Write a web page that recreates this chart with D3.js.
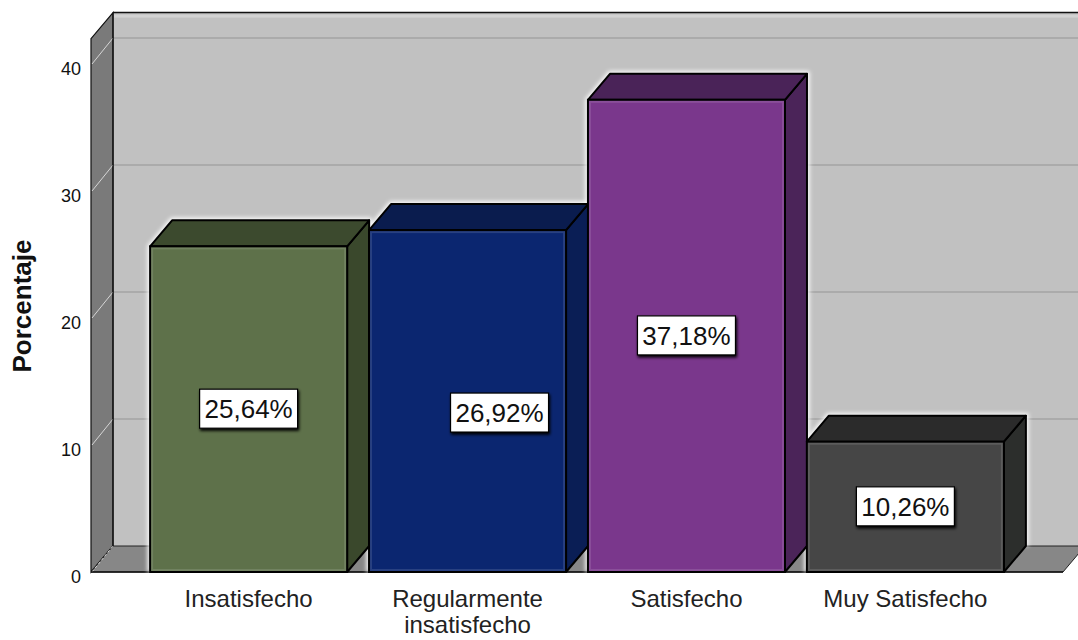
<!DOCTYPE html>
<html>
<head>
<meta charset="utf-8">
<script src="https://cdn.jsdelivr.net/npm/d3@7"></script>
<style>
  html, body { margin: 0; padding: 0; background: #fff; }
  svg { display: block; font-family: "Liberation Sans", Arial, sans-serif; }
</style>
</head>
<body>
<svg id="chart" width="1078" height="640"></svg>
<script>
// Satisfaction levels and their share of respondents (%)
const categories = ["Insatisfecho", "Regularmente insatisfecho", "Satisfecho", "Muy Satisfecho"];
const percentages = [25.64, 26.92, 37.18, 10.26];
const valueLabels = ["25,64%", "26,92%", "37,18%", "10,26%"];
const yTicks = [0, 10, 20, 30, 40];
const yTitle = "Porcentaje";

// Face colours for each bar: front, top, side
const frontColors = ["#5e714a", "#0b2670", "#7a378c", "#464646"];
const topColors   = ["#3c4a2e", "#0a1c4e", "#4a2358", "#2b2b2b"];
const sideColors  = ["#3a482c", "#0a1e55", "#4b2459", "#2c2e2c"];

const W = 1078, H = 640;
const DX = 22, DY = 26;          // oblique depth offset of the 3D frame
const svg = d3.select("#chart");

const y = d3.scaleLinear().domain([0, 42]).range([572, 572 - 42 * 12.7]);
const x = d3.scaleBand().domain(categories).range([91, 1063])
  .paddingInner(0.1).paddingOuter(0.27);

const defs = svg.append("defs");
const glow = defs.append("filter").attr("id", "glow")
  .attr("x", "-10%").attr("y", "-10%").attr("width", "120%").attr("height", "120%");
glow.append("feGaussianBlur").attr("stdDeviation", 2);

const shadow = defs.append("filter").attr("id", "shadow")
  .attr("x", "-20%").attr("y", "-30%").attr("width", "140%").attr("height", "160%");
shadow.append("feGaussianBlur").attr("in", "SourceAlpha").attr("stdDeviation", 1.6).attr("result", "b");
shadow.append("feOffset").attr("in", "b").attr("dx", 1).attr("dy", 1.5).attr("result", "o");
const sm = shadow.append("feMerge");
sm.append("feMergeNode").attr("in", "o");
sm.append("feMergeNode").attr("in", "SourceGraphic");

const x0 = 91, xR = 1063;
const yTop = y(42), yBase = y(0);

// back wall
svg.append("rect")
  .attr("x", x0 + DX).attr("y", yTop - DY)
  .attr("width", W - x0 - DX + 10).attr("height", yBase - yTop)
  .attr("fill", "#c1c1c1");
svg.append("rect")
  .attr("x", x0 + DX + 1).attr("y", yTop - DY + 2)
  .attr("width", W).attr("height", 3).attr("fill", "#d2d2d2");

// back-wall gridlines
svg.append("g").selectAll("line").data(yTicks.filter(d => d > 0)).join("line")
  .attr("x1", x0 + DX).attr("x2", W)
  .attr("y1", d => y(d) - DY).attr("y2", d => y(d) - DY)
  .attr("stroke", "#ababab").attr("stroke-width", 2);

// left wall
svg.append("path")
  .attr("d", `M${x0},${yBase} L${x0},${yTop} L${x0 + DX},${yTop - DY} L${x0 + DX},${yBase - DY} Z`)
  .attr("fill", "#7a7a7a").attr("stroke", "#111").attr("stroke-width", 1.2);

// floor
svg.append("path")
  .attr("d", `M${x0},${yBase} L${x0 + DX},${yBase - DY} L${xR + DX},${yBase - DY} L${xR},${yBase} Z`)
  .attr("fill", "#878787").attr("stroke", "#222").attr("stroke-width", 1);

// left-wall gridlines
svg.append("g").selectAll("line").data(yTicks).join("line")
  .attr("x1", x0 + 1).attr("y1", d => y(d))
  .attr("x2", x0 + DX).attr("y2", d => y(d) - DY)
  .attr("stroke", "#d6d6d6").attr("stroke-width", 1)
  .attr("stroke-dasharray", d => d === 0 ? "3,2" : null);

// frame edges
svg.append("line").attr("x1", x0 + DX).attr("x2", W)
  .attr("y1", yTop - DY).attr("y2", yTop - DY)
  .attr("stroke", "#111").attr("stroke-width", 1.5);
svg.append("line").attr("x1", x0 + DX).attr("x2", x0 + DX)
  .attr("y1", yTop - DY).attr("y2", yBase - DY)
  .attr("stroke", "#111").attr("stroke-width", 1.2);
svg.append("line").attr("x1", x0).attr("x2", xR)
  .attr("y1", yBase).attr("y2", yBase)
  .attr("stroke", "#111").attr("stroke-width", 1.5);

// bars
const bars = categories.map((c, i) => ({ c, v: percentages[i], i }));
const bw = x.bandwidth();

const barG = svg.append("g");
// white halo behind each bar
barG.selectAll("path.halo").data(bars).join("path")
  .attr("class", "halo")
  .attr("d", d => {
    const l = x(d.c), r = l + bw, t = y(d.v);
    return `M${l},${yBase} L${l},${t} L${l + DX},${t - DY} L${r + DX},${t - DY} L${r + DX},${yBase - DY}`;
  })
  .attr("fill", "none").attr("stroke", "#fff").attr("stroke-width", 5)
  .attr("filter", "url(#glow)");

const one = barG.selectAll("g.bar").data(bars).join("g").attr("class", "bar");
one.append("path") // side
  .attr("d", d => {
    const r = x(d.c) + bw, t = y(d.v);
    return `M${r},${yBase} L${r},${t} L${r + DX},${t - DY} L${r + DX},${yBase - DY} Z`;
  })
  .attr("fill", d => sideColors[d.i]).attr("stroke", "#000").attr("stroke-width", 2)
  .attr("stroke-linejoin", "round");
one.append("path") // top
  .attr("d", d => {
    const l = x(d.c), r = l + bw, t = y(d.v);
    return `M${l},${t} L${l + DX},${t - DY} L${r + DX},${t - DY} L${r},${t} Z`;
  })
  .attr("fill", d => topColors[d.i]).attr("stroke", "#000").attr("stroke-width", 2)
  .attr("stroke-linejoin", "round");
one.append("rect") // front
  .attr("x", d => x(d.c)).attr("y", d => y(d.v))
  .attr("width", bw).attr("height", d => yBase - y(d.v))
  .attr("fill", d => frontColors[d.i]).attr("stroke", "#000").attr("stroke-width", 2);
one.append("rect") // soft bevel on front face
  .attr("x", d => x(d.c) + 2).attr("y", d => y(d.v) + 2)
  .attr("width", bw - 4).attr("height", d => yBase - y(d.v) - 4)
  .attr("fill", "none").attr("stroke", "#fff").attr("stroke-opacity", 0.12).attr("stroke-width", 2);

// value labels
const labelNudge = [[0, 0], [32, 12], [0, 0], [0, 0]];
const lab = svg.append("g").selectAll("g").data(bars).join("g")
  .attr("transform", d => {
    const cx = x(d.c) + bw / 2 + labelNudge[d.i][0];
    const cy = (y(d.v) + yBase) / 2 + labelNudge[d.i][1];
    return `translate(${cx},${cy})`;
  });
lab.append("rect")
  .attr("x", -49).attr("y", -20).attr("width", 98).attr("height", 39)
  .attr("fill", "#fff").attr("stroke", "#000").attr("stroke-width", 1.2)
  .attr("filter", "url(#shadow)");
lab.append("text")
  .attr("text-anchor", "middle").attr("dy", "0.35em")
  .attr("font-size", 26).attr("fill", "#111")
  .text(d => valueLabels[d.i]);

// y axis tick labels
const yAxis = d3.axisLeft(y).tickValues(yTicks).tickSize(0).tickPadding(0).tickFormat(d3.format("d"));
const ax = svg.append("g").attr("transform", "translate(81,5)").call(yAxis);
ax.select(".domain").remove();
ax.selectAll("text").attr("font-size", 18).attr("fill", "#111")
  .attr("font-family", "Liberation Sans, Arial, sans-serif");

// y axis title
svg.append("text")
  .attr("transform", "translate(31,306) rotate(-90)")
  .attr("text-anchor", "middle")
  .attr("font-size", 26).attr("font-weight", "bold").attr("fill", "#111")
  .text(yTitle);

// category labels, wrapped when wider than the band
const cat = svg.append("g").selectAll("text").data(bars).join("text")
  .attr("x", d => x(d.c) + bw / 2).attr("y", 607)
  .attr("text-anchor", "middle").attr("font-size", 24).attr("fill", "#222");
cat.each(function (d) {
  const t = d3.select(this);
  t.text(d.c);
  if (this.getComputedTextLength() > bw) {
    t.text(null);
    d.c.split(" ").forEach((w, k) => {
      t.append("tspan").attr("x", x(d.c) + bw / 2).attr("dy", k === 0 ? 0 : 26).text(w);
    });
  }
});
</script>
</body>
</html>
